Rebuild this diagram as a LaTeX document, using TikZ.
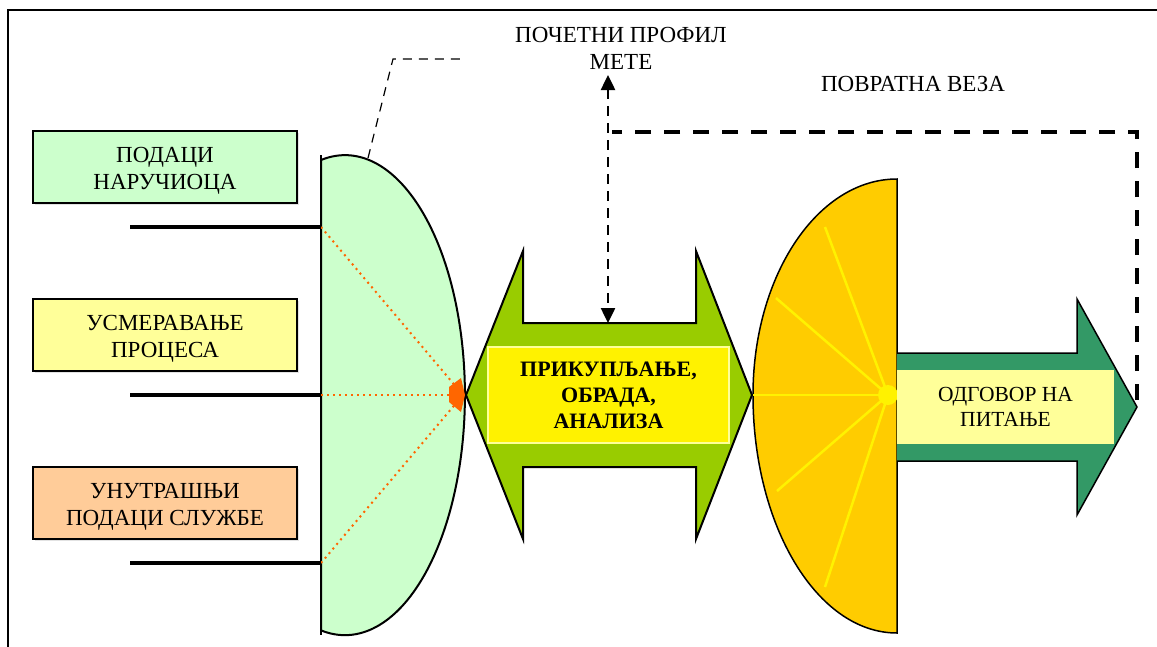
\documentclass[tikz,border=0pt]{standalone}
\usepackage{fontspec}
\setmainfont{Liberation Serif}
\usetikzlibrary{arrows.meta, shadows}

\definecolor{paleGreen}{HTML}{CCFFCC}
\definecolor{paleYellow}{HTML}{FFFF99}
\definecolor{paleOrange}{HTML}{FFCC99}
\definecolor{limeGreen}{HTML}{99CC00}
\definecolor{gold}{HTML}{FFCC00}
\definecolor{seaGreen}{HTML}{339966}
\definecolor{rayOrange}{HTML}{FF6600}

\begin{document}
\begin{tikzpicture}[x=1pt, y=-1pt,
  sourcebox/.style={draw, line width=2.5pt, minimum width=264pt, minimum height=72pt,
    inner sep=0pt, text height=50pt, align=center, font=\fontsize{23}{27.5}\selectfont,
    drop shadow={shadow xshift=1.5pt, shadow yshift=-1.5pt, fill=gray!45}},
  caption/.style={align=center, inner sep=0pt, font=\fontsize{23}{27}\selectfont},
  rayline/.style={yellow, line width=2.5pt}]
  \useasboundingbox (0,0) rectangle (1157,646);

  % Frame
  \draw[line width=2pt] (7.5,700) -- (7.5,10) -- (1200,10);

  % Define points
  \coordinate (focus) at (463,395);
  \coordinate (clientIn) at (130,227);
  \coordinate (guideIn) at (130,395);
  \coordinate (internIn) at (130,563);
  \coordinate (clientOut) at (321,227);
  \coordinate (guideOut) at (321,395);
  \coordinate (internOut) at (321,563);
  \coordinate (hub) at (888,395);
  \coordinate (profileTip) at (608,75);
  \coordinate (notch) at (608,323);
  \coordinate (loopStart) at (1137,400);
  \coordinate (loopCorner) at (1137,132);
  \coordinate (loopEnd) at (612,132);

  % Draw the lens
  \draw[fill=paleGreen, line width=2pt] (321,160)
    arc[start angle=-101.5, end angle=101.5, x radius=120, y radius=240] -- cycle;
  \draw[line width=2pt] (321,155) -- (321,635);

  % Draw the rays to the focus
  \foreach \p in {clientOut, guideOut, internOut}
    \draw[rayOrange, line width=2pt, dash pattern=on 2pt off 4pt] (\p) -- (focus);
  \fill[rayOrange] (449,387) -- (461,378) -- (465,395) -- (461,412) -- (449,402) -- cycle;

  % Draw the input lines and boxes
  \draw[line width=3.5pt] (clientIn) -- (clientOut);
  \draw[line width=3.5pt] (guideIn) -- (guideOut);
  \draw[line width=3.5pt] (internIn) -- (internOut);
  \node[sourcebox, fill=paleGreen] (client) at (165,167) {ПОДАЦИ\\НАРУЧИОЦА};
  \node[sourcebox, fill=paleYellow] (guide) at (165,335) {УСМЕРАВАЊЕ\\ПРОЦЕСА};
  \node[sourcebox, fill=paleOrange] (intern) at (165,503) {УНУТРАШЊИ\\ПОДАЦИ СЛУЖБЕ};

  % Draw the double arrow
  \draw[fill=limeGreen, line width=2pt] (466,395) -- (523,251) -- (523,323) -- (696,323)
    -- (696,251) -- (752,395) -- (696,539) -- (696,467) -- (523,467) -- (523,539) -- cycle;
  \node[fill=yellow, draw=paleYellow, line width=1.5pt, minimum width=241pt, minimum height=96pt,
    inner sep=0pt, align=center, font=\fontsize{22}{26}\selectfont\bfseries] (task) at (608.5,395)
    {ПРИКУПЉАЊЕ,\\ОБРАДА,\\АНАЛИЗА};

  % Draw the half disc with its rays
  \draw[fill=gold, line width=1.5pt] (897,179)
    arc[start angle=-90, end angle=-180, x radius=144, y radius=216]
    arc[start angle=180, end angle=90, x radius=144, y radius=238] -- cycle;
  \foreach \p in {(825,227), (776,298), (753,395), (777,491), (825,587)}
    \draw[rayline] (hub) -- \p;
  \fill[yellow] (hub) circle (10);

  % Draw the output arrow
  \draw[fill=seaGreen, line width=1.5pt] (897,353) -- (1077,353) -- (1077,299) -- (1137,407)
    -- (1077,515) -- (1077,461) -- (897,461);
  \node[fill=paleYellow, minimum width=217pt, minimum height=74pt, inner sep=0pt, align=center,
    font=\fontsize{21.5}{25}\selectfont] (answer) at (1005.5,407) {ОДГОВОР НА\\ПИТАЊЕ};

  % Labels
  \node[caption] (target) at (621,48) {ПОЧЕТНИ ПРОФИЛ\\МЕТЕ};
  \node[caption] (loop) at (913,84) {ПОВРАТНА ВЕЗА};

  % Draw the dashed connectors
  \draw[line width=1.2pt, dash pattern=on 9pt off 7pt] (368,158) -- (393,59) -- (466,59);
  \draw[line width=2.5pt, dash pattern=on 10pt off 7pt,
    {Triangle[length=15pt, width=14pt]}-{Triangle[length=15pt, width=14pt]}] (profileTip) -- (notch);
  \draw[line width=4.3pt, dash pattern=on 16pt off 13pt] (loopStart) -- (loopCorner) -- (loopEnd);

\end{tikzpicture}
\end{document}
